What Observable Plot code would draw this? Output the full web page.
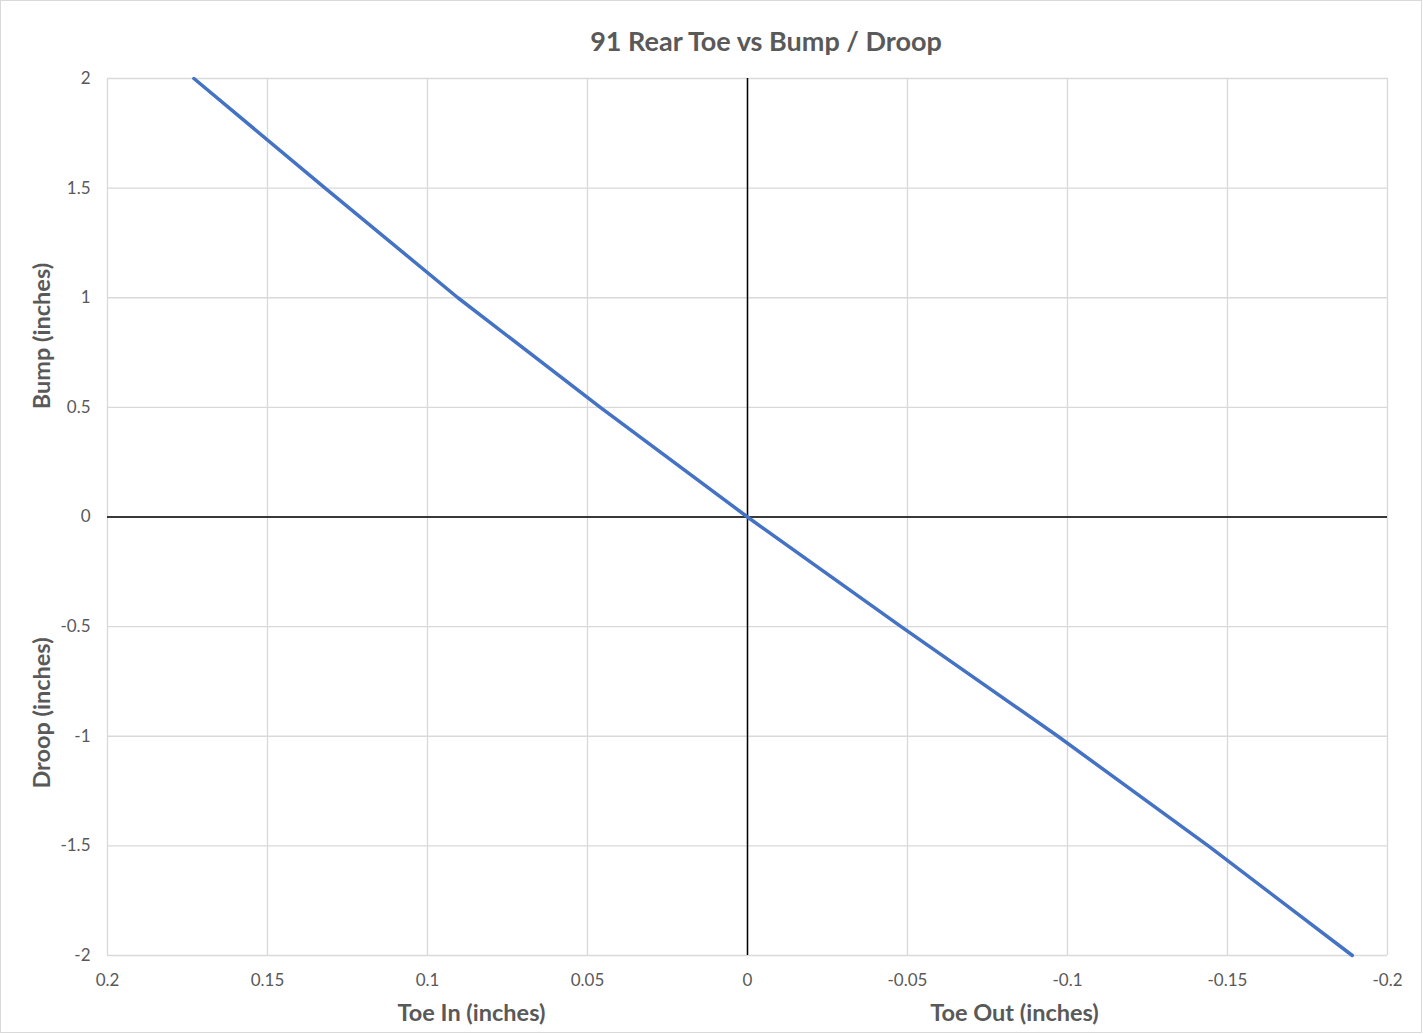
<!DOCTYPE html>
<html>
<head>
<meta charset="utf-8">
<script src="https://cdn.jsdelivr.net/npm/d3@7"></script>
<script src="https://cdn.jsdelivr.net/npm/@observablehq/plot@0.6"></script>
<style>
  html, body { margin: 0; padding: 0; background: #fff; }
  #wrap { position: relative; width: 1423px; height: 1034px; overflow: hidden; font-family: Lato, "Open Sans", sans-serif; }
  #title { position: absolute; left: 0; top: 24px; width: 1532px; text-align: center; font: bold 27px Lato, sans-serif; color: #595959; }
  #border { position: absolute; left: 0; top: 0; width: 1420px; height: 1031px; border: 1px solid #d9d9d9; pointer-events: none; }
  svg { display: block; }
</style>
</head>
<body>
<div id="wrap">
  <div id="chart"></div>
  <div id="title"></div>
  <div id="border"></div>
</div>
<script>
// Data
const bump = [2, 1.5, 1, 0.5, 0, -0.5, -1, -1.5, -2];                               // wheel travel (inches)
const toe  = [0.173, 0.132, 0.0905, 0.046, 0, -0.048, -0.097, -0.144, -0.189];     // toe (inches)
const xTicks = [0.2, 0.15, 0.1, 0.05, 0, -0.05, -0.1, -0.15, -0.2];
const yTicks = [2, 1.5, 1, 0.5, 0, -0.5, -1, -1.5, -2];
const titleText = "91 Rear Toe vs Bump / Droop";
const xTitles = ["Toe In (inches)", "Toe Out (inches)"];
const yTitles = ["Bump (inches)", "Droop (inches)"];

const data = bump.map((b, i) => ({bump: b, toe: toe[i]}));
const fmt = d => String(d);

const grid = "#d9d9d9";
const textColor = "#595959";
const titleStyle = {fill: textColor, fontWeight: "bold", fontSize: 23.5, textAnchor: "middle", lineAnchor: "middle"};

const plot = Plot.plot({
  width: 1423,
  height: 1034,
  marginLeft: 107,
  marginRight: 36,
  marginTop: 78,
  marginBottom: 79,
  style: {fontFamily: "Lato, sans-serif", fontSize: "17px", color: textColor, background: "transparent"},
  x: {domain: [0.2, -0.2], label: null},
  y: {domain: [-2, 2], label: null},
  marks: [
    Plot.gridX(xTicks, {stroke: grid, strokeOpacity: 1, strokeWidth: 1.3}),
    Plot.gridY(yTicks, {stroke: grid, strokeOpacity: 1, strokeWidth: 1.3}),
    Plot.ruleX([0], {stroke: "#000", strokeWidth: 1.5}),
    Plot.ruleY([0], {stroke: "#000", strokeWidth: 1.5}),
    Plot.axisX(xTicks, {tickSize: 0, tickPadding: 18, tickFormat: fmt, fill: textColor, fontSize: 17}),
    Plot.axisY(yTicks, {tickSize: 0, tickPadding: 17, tickFormat: fmt, fill: textColor, fontSize: 17}),
    Plot.line(data, {x: "toe", y: "bump", stroke: "#4472C4", strokeWidth: 3.5}),
    Plot.text([xTitles[0]], {frameAnchor: "bottom", dx: -276, dy: 58, text: d => d, ...titleStyle}),
    Plot.text([xTitles[1]], {frameAnchor: "bottom", dx: 267, dy: 58, text: d => d, ...titleStyle}),
    Plot.text([yTitles[0]], {frameAnchor: "left", dx: -65, dy: -181, rotate: -90, text: d => d, ...titleStyle}),
    Plot.text([yTitles[1]], {frameAnchor: "left", dx: -65, dy: 196, rotate: -90, text: d => d, ...titleStyle})
  ]
});
document.getElementById("chart").appendChild(plot);
document.getElementById("title").textContent = titleText;
</script>
</body>
</html>
